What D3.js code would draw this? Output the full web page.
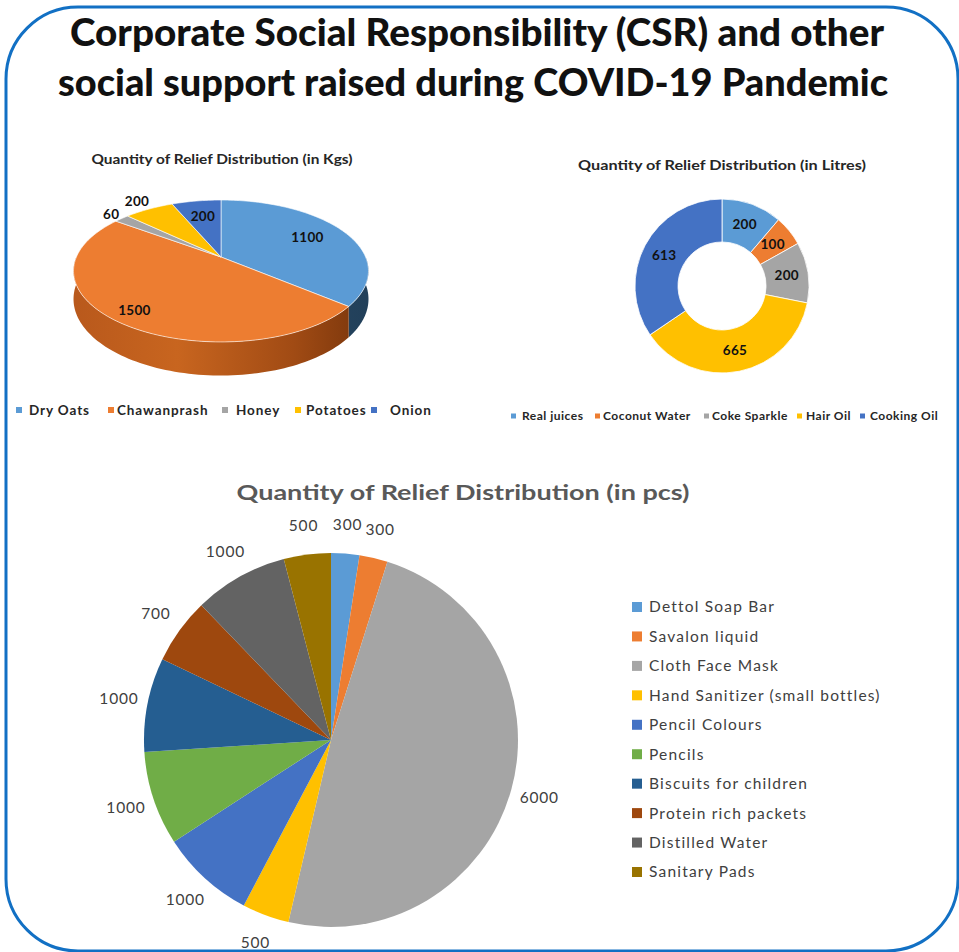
<!DOCTYPE html>
<html>
<head>
<meta charset="utf-8">
<script src="https://cdn.jsdelivr.net/npm/d3@7"></script>
<style>
  html, body { margin: 0; padding: 0; background: #fff; }
  svg { display: block; }
</style>
</head>
<body>
<svg id="chart" width="959" height="952"></svg>
<script>
// ---- Data ----
const kgCategories = ["Dry Oats", "Chawanprash", "Honey", "Potatoes", "Onion"];
const kgValues = [1100, 1500, 60, 200, 200];

const litreCategories = ["Real juices", "Coconut Water", "Coke Sparkle", "Hair Oil", "Cooking Oil"];
const litreValues = [200, 100, 200, 665, 613];

const pcsCategories = ["Dettol Soap Bar", "Savalon liquid", "Cloth Face Mask", "Hand Sanitizer (small bottles)",
  "Pencil Colours", "Pencils", "Biscuits for children", "Protein rich packets", "Distilled Water", "Sanitary Pads"];
const pcsValues = [300, 300, 6000, 500, 1000, 1000, 1000, 700, 1000, 500];

// ---- Palette ----
const officeColors = ["#5B9BD5", "#ED7D31", "#A5A5A5", "#FFC000", "#4472C4",
  "#70AD47", "#255E91", "#9E480E", "#636363", "#997300"];

const svg = d3.select("#chart");
const labelFont = "Lato, 'Open Sans', sans-serif";

// Rounded frame
svg.append("rect")
  .attr("x", 6).attr("y", 7).attr("width", 952).attr("height", 944)
  .attr("rx", 72).attr("ry", 72)
  .attr("fill", "#fff").attr("stroke", "#1270C4").attr("stroke-width", 3);

// Main heading
const heading = ["Corporate Social Responsibility (CSR) and other",
                 "social support raised during COVID-19 Pandemic"];
svg.selectAll("text.heading").data(heading).join("text")
  .attr("class", "heading")
  .attr("x", (d, i) => i === 0 ? 477 : 473)
  .attr("y", (d, i) => i === 0 ? 46 : 96)
  .attr("text-anchor", "middle")
  .attr("font-family", "Lato, 'Open Sans', sans-serif")
  .attr("font-weight", 900)
  .attr("font-size", 37)
  .attr("fill", "#111")
  .attr("textLength", (d, i) => i === 0 ? 814 : 830)
  .attr("lengthAdjust", "spacingAndGlyphs")
  .text(d => d);

// ---------- 3D pie (Kgs), drawn with a simple perspective tilt ----------
(function () {
  const X0 = 221, Y0 = 257, A = 144.6, B = 68.2, P = 0.197, D = 27;
  // (u, v) on the unit disc -> screen; v > 0 is the near (front) half
  const proj = (u, v) => { const s = 1 / (1 - P * v); return [X0 + A * u * s, Y0 + B * v * s]; };
  const onRim = (a, f = 1) => proj(f * Math.sin(a), -f * Math.cos(a));
  const depthAt = a => D / (1 - P * (-Math.cos(a)));

  const g = svg.append("g");
  g.append("text")
    .attr("x", 222).attr("y", 164).attr("text-anchor", "middle")
    .attr("font-family", labelFont).attr("font-weight", 700).attr("font-size", 12.5)
    .attr("fill", "#262626")
    .attr("textLength", 261).attr("lengthAdjust", "spacingAndGlyphs")
    .text("Quantity of Relief Distribution (in Kgs)");

  const pie = d3.pie().sort(null).value(d => d)(kgValues);

  const defs = svg.append("defs");
  const sideGrad = [
    { id: "side0", stops: [["0%", "#355c80"], ["100%", "#22405a"]] },
    { id: "side1", stops: [["0%", "#b9591c"], ["35%", "#c8651f"], ["75%", "#a14b14"], ["100%", "#7a360c"]] }
  ];
  sideGrad.forEach(s => {
    const lg = defs.append("linearGradient").attr("id", s.id)
      .attr("gradientUnits", "userSpaceOnUse")
      .attr("x1", X0 - A).attr("x2", X0 + A).attr("y1", 0).attr("y2", 0);
    s.stops.forEach(st => lg.append("stop").attr("offset", st[0]).attr("stop-color", st[1]));
  });

  const line = d3.line();
  const N = 90;
  // Front side walls (3 o'clock to 9 o'clock)
  pie.forEach((p, i) => {
    const a0 = Math.max(p.startAngle, Math.PI / 2);
    const a1 = Math.min(p.endAngle, 3 * Math.PI / 2);
    if (a1 <= a0) return;
    const pts = [];
    for (let k = 0; k <= N; k++) { const a = a0 + (a1 - a0) * k / N; pts.push(onRim(a)); }
    for (let k = N; k >= 0; k--) {
      const a = a0 + (a1 - a0) * k / N; const q = onRim(a); pts.push([q[0], q[1] + depthAt(a)]);
    }
    g.append("path").attr("d", line(pts) + "Z")
      .attr("fill", i === 0 ? "url(#side0)" : i === 1 ? "url(#side1)" : d3.color(officeColors[i]).darker(1));
  });

  // Top faces
  const topPath = p => {
    const pts = [proj(0, 0)];
    const n = Math.max(4, Math.ceil((p.endAngle - p.startAngle) / (2 * Math.PI) * 240));
    for (let k = 0; k <= n; k++) pts.push(onRim(p.startAngle + (p.endAngle - p.startAngle) * k / n));
    return line(pts) + "Z";
  };
  g.append("g").selectAll("path").data(pie).join("path")
    .attr("d", topPath)
    .attr("fill", (d, i) => officeColors[i])
    .attr("stroke", "#fff").attr("stroke-width", 0.6);

  // Data labels: inside for large slices, just outside for slivers
  const labelRadius = [0.7, 0.85, 1.12, 1.2, 0.7];
  g.selectAll("text.kg").data(pie).join("text")
    .attr("class", "kg")
    .attr("transform", (d, i) => `translate(${onRim((d.startAngle + d.endAngle) / 2, labelRadius[i])})`)
    .attr("dy", "0.35em").attr("text-anchor", "middle")
    .attr("font-family", labelFont).attr("font-weight", 700).attr("font-size", 13.5)
    .attr("letter-spacing", 0.3)
    .attr("fill", "#111")
    .text(d => d.data);

  // Legend
  const swatchX = [16, 108, 222, 295, 371];
  const textX = [29, 117, 236, 306, 390];
  const leg = g.selectAll("g.kgleg").data(kgCategories).join("g").attr("class", "kgleg");
  leg.append("rect").attr("x", (d, i) => swatchX[i]).attr("y", 407).attr("width", 6).attr("height", 6)
    .attr("fill", (d, i) => officeColors[i]);
  leg.append("text").attr("x", (d, i) => textX[i]).attr("y", 410).attr("dy", "0.35em")
    .attr("font-family", labelFont).attr("font-weight", 700).attr("font-size", 13.5)
    .attr("letter-spacing", 0.9)
    .attr("fill", "#262626").text(d => d);
})();

// ---------- Donut (Litres) ----------
(function () {
  const cx = 722, cy = 286, R = 87, r0 = 44;
  const g = svg.append("g");
  g.append("text")
    .attr("x", 722).attr("y", 170).attr("text-anchor", "middle")
    .attr("font-family", labelFont).attr("font-weight", 700).attr("font-size", 12.5)
    .attr("fill", "#262626")
    .attr("textLength", 288).attr("lengthAdjust", "spacingAndGlyphs")
    .text("Quantity of Relief Distribution (in Litres)");

  const pie = d3.pie().sort(null).value(d => d)(litreValues);
  const arc = d3.arc().innerRadius(r0).outerRadius(R);
  const dg = g.append("g").attr("transform", `translate(${cx},${cy})`);
  dg.selectAll("path").data(pie).join("path")
    .attr("d", arc)
    .attr("fill", (d, i) => officeColors[i])
    .attr("stroke", "#fff").attr("stroke-width", 0.8);
  dg.selectAll("text").data(pie).join("text")
    .attr("transform", d => `translate(${arc.centroid(d)})`)
    .attr("dy", "0.35em").attr("text-anchor", "middle")
    .attr("font-family", labelFont).attr("font-weight", 700).attr("font-size", 13.5)
    .attr("letter-spacing", 0.3)
    .attr("fill", "#111")
    .text(d => d.data);

  const swatchX = [511, 595, 704, 797, 860];
  const textX = [522, 603, 712, 806, 870];
  const leg = g.selectAll("g.lleg").data(litreCategories).join("g").attr("class", "lleg");
  leg.append("rect").attr("x", (d, i) => swatchX[i]).attr("y", 413.5).attr("width", 5).attr("height", 5)
    .attr("fill", (d, i) => officeColors[i]);
  leg.append("text").attr("x", (d, i) => textX[i]).attr("y", 416).attr("dy", "0.35em")
    .attr("font-family", labelFont).attr("font-weight", 700).attr("font-size", 12)
    .attr("letter-spacing", 0.5)
    .attr("fill", "#262626").text(d => d);
})();

// ---------- Pie (pcs) ----------
(function () {
  const cx = 331, cy = 740, R = 187;
  const g = svg.append("g");
  g.append("text")
    .attr("x", 463).attr("y", 500).attr("text-anchor", "middle")
    .attr("font-family", labelFont).attr("font-weight", 700).attr("font-size", 21)
    .attr("fill", "#595959")
    .attr("textLength", 453).attr("lengthAdjust", "spacingAndGlyphs")
    .text("Quantity of Relief Distribution (in pcs)");

  const pie = d3.pie().sort(null).value(d => d)(pcsValues);
  const arc = d3.arc().innerRadius(0).outerRadius(R);
  const labelArc = d3.arc().innerRadius(R + 29).outerRadius(R + 29);
  const pg = g.append("g").attr("transform", `translate(${cx},${cy})`);
  pg.selectAll("path").data(pie).join("path")
    .attr("d", arc)
    .attr("fill", (d, i) => officeColors[i]);
  pg.selectAll("text").data(pie).join("text")
    .attr("transform", d => `translate(${labelArc.centroid(d)})`)
    .attr("dy", "0.35em").attr("text-anchor", "middle")
    .attr("font-family", labelFont).attr("font-size", 15.5)
    .attr("letter-spacing", 0.8)
    .attr("fill", "#404040")
    .text(d => d.data);

  const y = d3.scalePoint().domain(pcsCategories).range([607, 872]);
  const leg = g.selectAll("g.pleg").data(pcsCategories).join("g")
    .attr("class", "pleg").attr("transform", d => `translate(632,${y(d)})`);
  leg.append("rect").attr("x", 0).attr("y", -5).attr("width", 10).attr("height", 10)
    .attr("fill", (d, i) => officeColors[i]);
  leg.append("text").attr("x", 17).attr("dy", "0.35em")
    .attr("font-family", labelFont).attr("font-size", 15.5)
    .attr("letter-spacing", 1.2)
    .attr("fill", "#404040").text(d => d);
})();
</script>
</body>
</html>
